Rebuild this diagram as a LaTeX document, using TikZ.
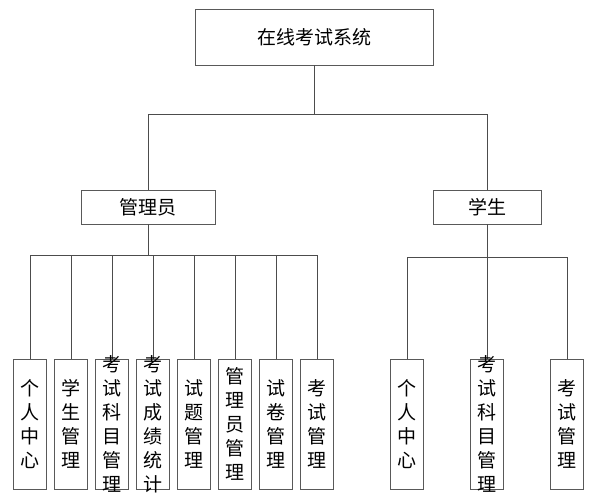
\documentclass[tikz,border=0pt]{standalone}
\usepackage{fontspec}
\newfontfamily\cjk{Noto Sans CJK SC}
\tikzset{
  box/.style={draw=black!65, line width=0.9pt, fill=white, inner sep=0pt},
  htext/.style={font=\cjk\fontsize{19}{24}\selectfont, text=black},
  vbox/.style={box, minimum width=33pt, minimum height=130pt},
  vtext/.style={font=\cjk\fontsize{19}{24}\selectfont, align=center, inner sep=0pt, text=black},
  conn/.style={draw=black!70, line width=0.9pt}
}
\begin{document}
\begin{tikzpicture}[x=1pt,y=-1pt]
\useasboundingbox (0,0) rectangle (596,500);
% top level
\node[box, htext, minimum width=238pt, minimum height=56pt] (top) at (314,37) {在线考试系统};
\node[box, htext, minimum width=134pt, minimum height=34pt] (adm) at (148,207) {管理员};
\node[box, htext, minimum width=108pt, minimum height=34pt] (stu) at (487,207) {学生};
\coordinate (bus1) at (314,114);
\coordinate (bus2) at (148,255);
\coordinate (bus3) at (487,257);
% admin children
\foreach \i/\x in {1/30,2/71,3/112,4/153,5/194,6/235,7/276,8/317}{
  \node[vbox] (a\i) at (\x,424) {};
}
\foreach \i/\x in {1/407,2/487,3/567}{
  \node[vbox] (s\i) at (\x,424) {};
}
% connectors
\draw[conn] (top.south) -- (bus1) -| (adm.north);
\draw[conn] (bus1) -| (stu.north);
\draw[conn] (adm.south) -- (bus2);
\foreach \i in {1,...,8}{
  \draw[conn] (bus2) -| (a\i.north);
}
\draw[conn] (stu.south) -- (bus3);
\foreach \i in {1,2,3}{
  \draw[conn] (bus3) -| (s\i.north);
}
% texts in vertical boxes
\node[vtext] (a1t) at (a1) {个\\人\\中\\心};
\node[vtext] (a2t) at (a2) {学\\生\\管\\理};
\node[vtext] (a3t) at (a3) {考\\试\\科\\目\\管\\理};
\node[vtext] (a4t) at (a4) {考\\试\\成\\绩\\统\\计};
\node[vtext] (a5t) at (a5) {试\\题\\管\\理};
\node[vtext] (a6t) at (a6) {管\\理\\员\\管\\理};
\node[vtext] (a7t) at (a7) {试\\卷\\管\\理};
\node[vtext] (a8t) at (a8) {考\\试\\管\\理};
\node[vtext] (s1t) at (s1) {个\\人\\中\\心};
\node[vtext] (s2t) at (s2) {考\\试\\科\\目\\管\\理};
\node[vtext] (s3t) at (s3) {考\\试\\管\\理};
\end{tikzpicture}
\end{document}
